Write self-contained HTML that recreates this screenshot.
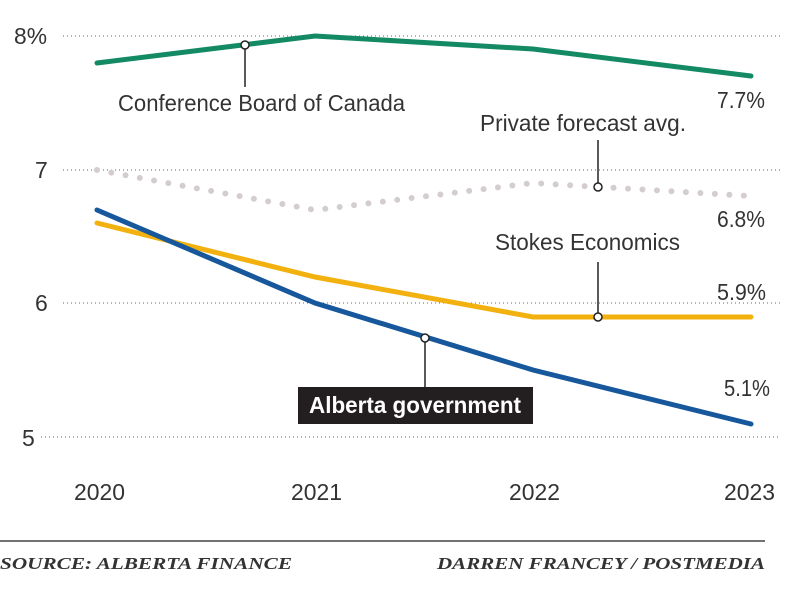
<!DOCTYPE html>
<html><head><meta charset="utf-8"><style>
body{margin:0;background:#fff;}
svg text{font-family:"Liberation Sans",sans-serif;fill:#333;}
</style></head><body>
<svg width="800" height="584" viewBox="0 0 800 584" xmlns="http://www.w3.org/2000/svg">
<g stroke="#666" stroke-width="1" stroke-dasharray="1,3">
<line x1="63" y1="36" x2="780" y2="36"/>
<line x1="63" y1="170" x2="780" y2="170"/>
<line x1="63" y1="303" x2="780" y2="303"/>
<line x1="41" y1="437" x2="780" y2="437"/>
</g>
<g font-size="23" lengthAdjust="spacingAndGlyphs">
<text x="14" y="44" textLength="33" lengthAdjust="spacingAndGlyphs">8%</text>
<text x="35" y="178">7</text>
<text x="35" y="311">6</text>
<text x="22" y="446">5</text>
<text x="74" y="500" textLength="51" lengthAdjust="spacingAndGlyphs">2020</text>
<text x="291" y="500" textLength="51" lengthAdjust="spacingAndGlyphs">2021</text>
<text x="509" y="500" textLength="51" lengthAdjust="spacingAndGlyphs">2022</text>
<text x="724" y="500" textLength="51" lengthAdjust="spacingAndGlyphs">2023</text>
</g>
<polyline points="97,170 315,210 533,183 751,196" fill="none" stroke="#d3cdce" stroke-width="6" stroke-linecap="round" stroke-dasharray="0,14.5"/>
<polyline points="97,63 315,36 533,49 751,76" fill="none" stroke="#138a63" stroke-width="5" stroke-linecap="round"/>
<polyline points="97,223 315,277 533,317 751,317" fill="none" stroke="#f2b10f" stroke-width="5" stroke-linecap="round"/>
<polyline points="97,210 315,303 533,370 751,424" fill="none" stroke="#17579b" stroke-width="5" stroke-linecap="round"/>
<g stroke="#222" stroke-width="1.5" fill="#fff">
<line x1="245" y1="45" x2="245" y2="87"/>
<circle cx="245" cy="45" r="4"/>
<line x1="598" y1="187" x2="598" y2="140"/>
<circle cx="598" cy="187" r="4"/>
<line x1="598" y1="317" x2="598" y2="262"/>
<circle cx="598" cy="317" r="4"/>
<line x1="425" y1="338" x2="425" y2="387"/>
<circle cx="425" cy="338" r="4"/>
</g>
<g font-size="23">
<text x="118" y="111" textLength="287" lengthAdjust="spacingAndGlyphs">Conference Board of Canada</text>
<text x="480" y="131" textLength="206" lengthAdjust="spacingAndGlyphs">Private forecast avg.</text>
<text x="495" y="250" textLength="185" lengthAdjust="spacingAndGlyphs">Stokes Economics</text>
<text x="717" y="108" textLength="48" lengthAdjust="spacingAndGlyphs">7.7%</text>
<text x="717" y="227" textLength="48" lengthAdjust="spacingAndGlyphs">6.8%</text>
<text x="717" y="300" textLength="49" lengthAdjust="spacingAndGlyphs">5.9%</text>
<text x="724" y="396" textLength="46" lengthAdjust="spacingAndGlyphs">5.1%</text>
</g>
<rect x="298" y="387" width="235" height="37" fill="#231f20"/>
<text x="309" y="413" font-size="23" font-weight="bold" style="fill:#fff" textLength="212" lengthAdjust="spacingAndGlyphs">Alberta government</text>
<line x1="0" y1="541" x2="765" y2="541" stroke="#444" stroke-width="1.5"/>
<g font-style="italic" font-size="17" font-weight="bold">
<text x="0" y="569" style="font-family:'Liberation Serif',serif" textLength="292" lengthAdjust="spacingAndGlyphs">SOURCE: ALBERTA FINANCE</text>
<text x="437" y="569" style="font-family:'Liberation Serif',serif" textLength="328" lengthAdjust="spacingAndGlyphs">DARREN FRANCEY / POSTMEDIA</text>
</g>
</svg>
</body></html>
